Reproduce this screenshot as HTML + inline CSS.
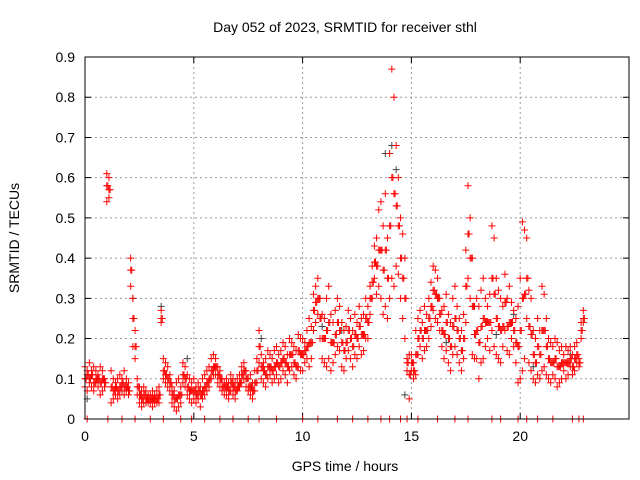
<!DOCTYPE html>
<html><head><meta charset="utf-8"><style>
body{margin:0;background:#fff}
svg{display:block;font-family:"Liberation Sans",sans-serif}
</style></head><body>
<svg id="chart" width="640" height="480">
<text x="345" y="32" text-anchor="middle" font-size="14">Day 052 of 2023, SRMTID for receiver sthl</text>
<text x="345" y="471" text-anchor="middle" font-size="14">GPS time / hours</text>
<text transform="translate(19,238) rotate(-90)" text-anchor="middle" font-size="14">SRMTID / TECUs</text>
<g id="grid"></g><g id="marks"></g>
<rect x="85" y="57" width="544" height="362" fill="none" stroke="#000"/>
</svg>
<script>
const startHour = 0, stepHour = 0.1;
const srmtidHigh = [.13,.12,.14,.12,.13,.12,.11,.13,.12,.10, .61,.60,.12,.10,.09,.10,.11,.10,.12,.10, .09,.40,.30,.22,.10,.08,.07,.08,.07,.06, .06,.07,.06,.07,.08,.27,.15,.14,.13,.11, .08,.07,.09,.10,.08,.14,.13,.11,.10,.09, .10,.08,.09,.08,.10,.11,.12,.13,.15,.16, .15,.13,.12,.10,.09,.10,.09,.11,.10,.09, .10,.11,.13,.14,.12,.10,.11,.09,.12,.15, .22,.16,.14,.15,.17,.16,.15,.17,.18,.16, .17,.19,.18,.16,.20,.19,.18,.17,.21,.20, .20,.19,.22,.25,.23,.31,.33,.35,.30,.26, .25,.30,.33,.26,.24,.27,.30,.28,.24,.22, .23,.27,.25,.22,.26,.24,.28,.25,.26,.30, .28,.33,.38,.43,.45,.52,.54,.48,.56,.45, .66,.87,.80,.68,.60,.50,.46,.40,.15,.16, .16,.14,.22,.25,.27,.24,.28,.26,.30,.34, .38,.37,.35,.30,.27,.28,.31,.26,.24,.30, .33,.28,.25,.22,.26,.42,.58,.50,.40,.28, .30,.28,.32,.35,.30,.28,.31,.48,.45,.35, .32,.30,.28,.36,.30,.33,.29,.27,.25,.28, .35,.49,.47,.45,.32,.30,.22,.20,.25,.22, .33,.31,.25,.20,.19,.18,.20,.19,.17,.18, .16,.18,.17,.18,.16,.18,.19,.15,.20,.27];
const srmtidMid = [.10,.11,.10,.11,.09,.10,.10,.09,.10,.09, .58,.57,.08,.07,.08,.07,.08,.09,.08,.08, .07,.37,.25,.18,.08,.06,.05,.06,.05,.05, .05,.05,.05,.05,.06,.25,.12,.11,.10,.09, .06,.05,.05,.06,.06,.11,.10,.08,.07,.07, .07,.06,.07,.06,.07,.08,.09,.10,.12,.13, .13,.11,.10,.08,.08,.08,.07,.09,.08,.07, .08,.09,.11,.12,.10,.08,.08,.07,.09,.12, .18,.13,.12,.11,.13,.13,.12,.13,.14,.13, .14,.15,.14,.13,.16,.16,.14,.13,.17,.16, .16,.17,.18,.19,.19,.27,.29,.30,.25,.20, .20,.22,.24,.19,.19,.21,.24,.22,.19,.17, .19,.22,.20,.18,.21,.20,.23,.21,.21,.25, .24,.30,.34,.39,.38,.42,.42,.37,.42,.35, .48,.60,.56,.53,.48,.40,.35,.30,.14,.11, .14,.12,.16,.20,.22,.20,.22,.22,.25,.28, .32,.31,.30,.26,.22,.21,.24,.20,.18,.23, .25,.22,.20,.17,.20,.33,.46,.40,.28,.21, .22,.19,.23,.25,.24,.24,.24,.35,.31,.25, .23,.22,.23,.29,.23,.24,.24,.22,.19,.18, .22,.30,.31,.35,.23,.21,.16,.14,.18,.16, .22,.22,.18,.15,.14,.14,.15,.13,.13,.14, .14,.14,.14,.15,.13,.15,.16,.14,.22,.25];
const srmtidLow = [.08,.07,.09,.08,.07,.09,.08,.06,.07,.08, .54,.55,.04,.05,.06,.05,.06,.07,.06,.07, .06,.33,.18,.15,.06,.04,.03,.04,.04,.04, .04,.03,.04,.04,.04,.24,.10,.09,.08,.07, .04,.03,.02,.03,.04,.09,.08,.06,.05,.04, .05,.04,.05,.03,.05,.06,.07,.08,.10,.11, .11,.09,.08,.07,.06,.06,.05,.07,.06,.05, .07,.08,.09,.10,.08,.07,.06,.05,.07,.09, .14,.10,.09,.08,.10,.11,.09,.10,.11,.09, .10,.12,.11,.09,.12,.13,.11,.10,.13,.12, .12,.14,.15,.13,.15,.22,.24,.26,.20,.15, .14,.13,.15,.12,.14,.16,.18,.17,.13,.12, .15,.17,.15,.13,.16,.15,.18,.16,.17,.20, .20,.26,.30,.35,.31,.33,.30,.26,.28,.25, .30,.35,.33,.38,.36,.30,.25,.20,.12,.05, .12,.10,.11,.16,.18,.15,.17,.18,.20,.23, .27,.25,.24,.22,.18,.15,.17,.14,.12,.16, .18,.16,.14,.12,.15,.24,.35,.30,.16,.15, .15,.10,.14,.15,.18,.20,.17,.22,.18,.16, .15,.14,.18,.22,.17,.16,.20,.18,.14,.09, .10,.12,.15,.25,.14,.12,.10,.09,.11,.10, .12,.13,.11,.10,.09,.11,.10,.08,.09,.10, .12,.10,.11,.13,.11,.12,.14,.13,.24,.24];
const greyHours = [0.1,2.2,3.5,4.7,8.1,10.9,11.8,13.8,14.1,14.3,14.7,16.6,18.9,19.7,20.6,22.3];
const greyValues = [0.05,0.30,0.28,0.15,0.20,0.23,0.22,0.66,0.68,0.62,0.06,0.19,0.21,0.26,0.13,0.16];
const zeroHours = [0.1,1.05,1.7,2.3,3.0,3.6,4.4,4.9,5.5,6.2,6.8,7.5,8.0,8.8,10.0,10.7,11.6,12.3,13.0,13.6,14.0,14.5,14.8,15.3,16.2,17.0,17.6,18.7,19.1,19.9,20.3,20.8,21.5,22.4,22.7,22.9];
const xTicks = [0,5,10,15,20];
const yTicks = [0,0.1,0.2,0.3,0.4,0.5,0.6,0.7,0.8,0.9];

const L=85,R=629,T=57,B=419;
const xs = h => L + h/25*(R-L);
const ys = v => B - v/0.9*(B-T);
const NS="http://www.w3.org/2000/svg";
const grid=document.getElementById('grid'), marks=document.getElementById('marks');
function mk(tag,attrs,parent){const e=document.createElementNS(NS,tag);for(const k in attrs)e.setAttribute(k,attrs[k]);parent.appendChild(e);return e;}
xTicks.forEach(t=>{
  const x=xs(t);
  if(t>0){const g=mk('line',{x1:x,x2:x,y1:T,y2:B,stroke:'#999','stroke-dasharray':'2,3'},grid);
  
  }
  const tk=mk('path',{d:`M${x},${B}v-6M${x},${T}v6`,stroke:'#000'},grid);
  
  
  const lb=mk('text',{x:x,y:B+22,'text-anchor':'middle','font-size':'14'},grid);lb.textContent=t;
  
  
});
yTicks.forEach(t=>{
  const y=ys(t);
  if(t>0&&t<0.9){const g=mk('line',{x1:L,x2:R,y1:y,y2:y,stroke:'#999','stroke-dasharray':'2,3'},grid);
  
  }
  const tk=mk('path',{d:`M${L},${y}h6M${R},${y}h-6`,stroke:'#000'},grid);
  
  
  const lb=mk('text',{x:L-10,y:y+5,'text-anchor':'end','font-size':'14'},grid);lb.textContent=String(t);
  
  
});
function plus(h,v,col,name){
  const x=xs(h),y=ys(v);
  const p=mk('path',{d:`M${x-3.5},${y}h7M${x},${y-3.5}v7`,stroke:col,'stroke-width':1,fill:'none'},marks);
  
  
}
zeroHours.forEach(h=>plus(h,0,'#f00','zero-point'));
greyHours.forEach((h,i)=>plus(h,greyValues[i],'#444','grey-point'));
srmtidLow.forEach((v,i)=>plus(startHour+i*stepHour,v,'#f00','srmtid-point-low'));
srmtidMid.forEach((v,i)=>plus(startHour+i*stepHour,v,'#f00','srmtid-point-mid'));
srmtidMid.forEach((v,i)=>plus(startHour+i*stepHour+0.05,v,'#f00','srmtid-point-mid'));
srmtidHigh.forEach((v,i)=>plus(startHour+i*stepHour,v,'#f00','srmtid-point-high'));
</script>
</body></html>
